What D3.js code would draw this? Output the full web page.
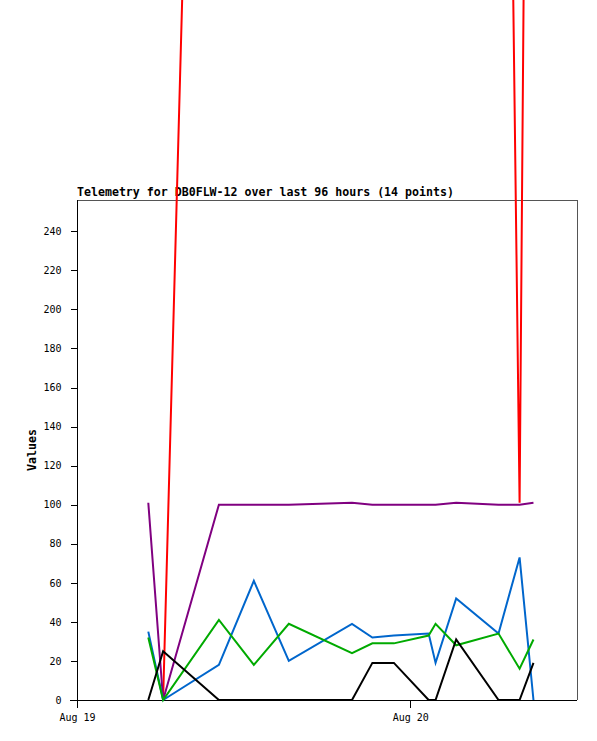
<!DOCTYPE html>
<html>
<head>
<meta charset="utf-8">
<script src="https://cdn.jsdelivr.net/npm/d3@7"></script>
<style>
  html, body { margin: 0; padding: 0; background: #fff; }
  svg { display: block; }
</style>
</head>
<body>
<svg id="chart" width="597" height="741"></svg>
<script>
// ---- data ----
const title = "Telemetry for DB0FLW-12 over last 96 hours (14 points)";
const yAxisTitle = "Values";
const times = [
  "2024-08-19T05:08Z", "2024-08-19T06:12Z", "2024-08-19T10:13Z", "2024-08-19T12:44Z",
  "2024-08-19T15:15Z", "2024-08-19T19:48Z", "2024-08-19T21:16Z", "2024-08-19T22:49Z",
  "2024-08-20T01:19Z", "2024-08-20T01:49Z", "2024-08-20T03:18Z", "2024-08-20T06:21Z",
  "2024-08-20T07:52Z", "2024-08-20T08:52Z"
];
const redValues    = [null, 0, 1050, 1040, 1030, 1020, 1010, 1000, 990, 980, 970, 960, 101, 1000];
const purpleValues = [101, 0, 100, 100, 100, 101, 100, 100, 100, 100, 101, 100, 100, 101];
const blueValues   = [35, 0, 18, 61, 20, 39, 32, 33, 34, 19, 52, 34, 73, 0];
const greenValues  = [32, 0, 41, 18, 39, 24, 29, 29, 33, 39, 28, 34, 16, 31];
const blackValues  = [0, 25, 0, 0, 0, 0, 19, 19, 0, 0, 31, 0, 0, 19];
const yTicks = [0, 20, 40, 60, 80, 100, 120, 140, 160, 180, 200, 220, 240];
const xTickDates = ["2024-08-19T00:00Z", "2024-08-20T00:00Z"];
const xTickLabels = ["Aug 19", "Aug 20"];
const xDomain = ["2024-08-19T00:00Z", "2024-08-20T12:00Z"];
const yDomain = [0, 256];

const series = [
  { name: "red", values: redValues, color: "#ff0000" },
  { name: "purple", values: purpleValues, color: "#800080" },
  { name: "blue", values: blueValues, color: "#0066cc" },
  { name: "green", values: greenValues, color: "#00aa00" },
  { name: "black", values: blackValues, color: "#000000" }
];

// ---- layout ----
const L = 77, R = 577, T = 200, B = 700;
const svg = d3.select("#chart");
const monoFont = "'DejaVu Sans Mono', 'Liberation Mono', monospace";

const x = d3.scaleUtc().domain(xDomain.map(d => new Date(d))).range([L, R]);
const y = d3.scaleLinear().domain(yDomain).range([B, T]);

// title
svg.append("text")
  .attr("x", L).attr("y", 196)
  .attr("font-family", monoFont).attr("font-weight", "bold")
  .attr("font-size", "11.6px").attr("fill", "#000")
  .text(title);

// frame (top & right, gray)
svg.append("path")
  .attr("d", `M${L},${T + 0.5}H${R + 0.5}V${B}`)
  .attr("fill", "none").attr("stroke", "#555").attr("stroke-width", 1)
  .attr("shape-rendering", "crispEdges");

// y axis
const yAxis = d3.axisLeft(y).tickValues(yTicks).tickSize(7).tickPadding(9).tickFormat(d3.format("d"));
const gy = svg.append("g").attr("transform", `translate(${L + 0.5},0)`).call(yAxis);
gy.select(".domain").attr("stroke", "#000").attr("d", `M0,${T}V${B + 0.5}`).attr("shape-rendering", "crispEdges");
gy.selectAll(".tick line").attr("stroke", "#000").attr("shape-rendering", "crispEdges");
gy.selectAll(".tick text").attr("font-family", monoFont).attr("font-size", "10px").attr("fill", "#000");

// x axis
const xAxis = d3.axisBottom(x)
  .tickValues(xTickDates.map(d => new Date(d)))
  .tickSize(7).tickPadding(6)
  .tickFormat((d, i) => xTickLabels[i]);
const gx = svg.append("g").attr("transform", `translate(0,${B + 0.5})`).call(xAxis);
gx.select(".domain").attr("stroke", "#000").attr("d", `M${L - 7},0H${R}`).attr("shape-rendering", "crispEdges");
gx.selectAll(".tick line").attr("stroke", "#000").attr("shape-rendering", "crispEdges");
gx.selectAll(".tick text").attr("font-family", monoFont).attr("font-size", "10px").attr("fill", "#000");

// y axis title
svg.append("text")
  .attr("transform", `translate(36,${(T + B) / 2}) rotate(-90)`)
  .attr("text-anchor", "middle")
  .attr("font-family", monoFont).attr("font-weight", "bold")
  .attr("font-size", "11.6px").attr("fill", "#000")
  .text(yAxisTitle);

// lines
const line = d3.line()
  .defined(d => d.v !== null)
  .x(d => x(d.t))
  .y(d => y(d.v));

series.forEach(s => {
  const pts = s.values.map((v, i) => ({ t: new Date(times[i]), v }));
  svg.append("path")
    .datum(pts)
    .attr("d", line)
    .attr("fill", "none")
    .attr("stroke", s.color)
    .attr("stroke-width", 2)
    .attr("stroke-linejoin", "miter");
});
</script>
</body>
</html>
